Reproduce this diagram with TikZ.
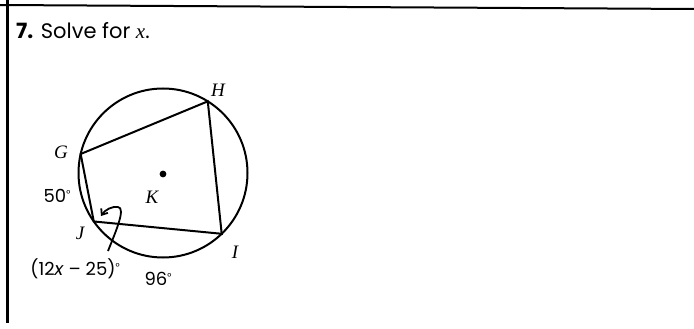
\documentclass[tikz,border=0pt]{standalone}
\usepackage{fontspec}
\setmainfont{Liberation Serif}
\newfontfamily\gothic{Poppins}
\usetikzlibrary{arrows.meta}
\tikzset{
  ptlabel/.style={font=\fontsize{19}{21}\selectfont\itshape, inner sep=0pt},
  numlabel/.style={font=\gothic\fontsize{18}{20}\selectfont, inner sep=0pt},
  seg/.style={line width=2pt},
}
\newcommand{\dg}{\raisebox{0.55ex}{\fontsize{10}{10}\selectfont°}}
\newcommand{\ix}{\textit{\fontspec{Liberation Serif}\fontsize{21}{21}\selectfont x}}
\begin{document}
\begin{tikzpicture}[x=1pt,y=-1pt]
\useasboundingbox (0,0) rectangle (694,329);
% frame
\coordinate (fl) at (0,5);
\coordinate (fr) at (694,9);
\coordinate (vt) at (7.5,0);
\coordinate (vb) at (7.5,323);
\draw[line width=2pt] (fl) -- (fr);
\draw[line width=2.2pt] (vt) -- (vb);
% title
\node[anchor=west, inner sep=0pt, font=\gothic\fontsize{21}{24}\selectfont] (title) at (16,31)
  {\textbf{7.} Solve for {\ix}.};
% circle
\node[circle, draw, line width=2pt, minimum size=169pt, inner sep=0pt, outer sep=0pt] (circ) at (163,173) {};
\fill (163,174) circle (3.4pt) coordinate (K);
\coordinate (H) at (circ.58.6);
\coordinate (G) at (circ.167.8);
\coordinate (J) at (circ.215.8);
\coordinate (I) at (circ.314.5);
\draw[seg, line join=miter] (G) -- (H) -- (I) -- (J) -- cycle;
% labels
\node[ptlabel] (lH) at (218,90) {H};
\node[ptlabel] (lG) at (61,152) {G};
\node[ptlabel] (lK) at (152,197) {K};
\node[ptlabel] (lJ) at (80,233) {J};
\node[ptlabel] (lI) at (235,252) {I};
\node[numlabel] (l50) at (57,196) {50\dg};
\node[numlabel] (l96) at (158,279) {96\dg};
\node[numlabel] (lx) at (75,269) {(12\textit{x} – 25)\dg};
% arrow
\coordinate (as) at (108,251);
\coordinate (am) at (118,207);
\coordinate (ae) at (101,216);
\draw[line width=1.8pt, -{Straight Barb[length=5pt,width=8pt]}] (as) .. controls (116,231) and (126,208) .. (am) .. controls (112,206) and (105,210) .. (ae);
\end{tikzpicture}
\end{document}
